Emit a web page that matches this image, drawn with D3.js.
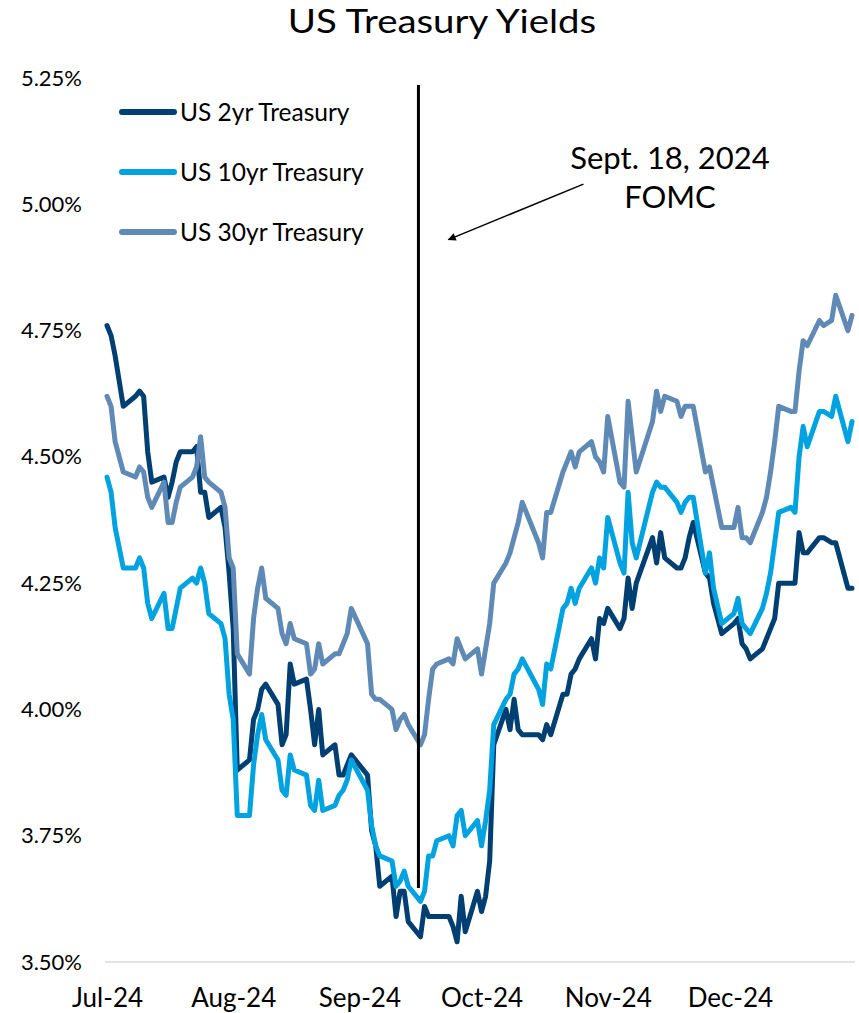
<!DOCTYPE html>
<html>
<head>
<meta charset="utf-8">
<script src="https://cdn.jsdelivr.net/npm/d3@7"></script>
<style>
  body { margin: 0; background: #fff; }
  svg { display: block; font-family: Lato, "Open Sans", sans-serif; }
</style>
</head>
<body>
<div id="chart"></div>
<script>
'use strict';

// trading days, Jul - Dec 2024
const dates = [
  '2024-07-01','2024-07-02','2024-07-03','2024-07-05','2024-07-08','2024-07-09','2024-07-10','2024-07-11','2024-07-12','2024-07-15','2024-07-16',
  '2024-07-17','2024-07-18','2024-07-19','2024-07-22','2024-07-23','2024-07-24','2024-07-25','2024-07-26','2024-07-29','2024-07-30','2024-07-31',
  '2024-08-01','2024-08-02','2024-08-05','2024-08-06','2024-08-07','2024-08-08','2024-08-09','2024-08-12','2024-08-13','2024-08-14','2024-08-15',
  '2024-08-16','2024-08-19','2024-08-20','2024-08-21','2024-08-22','2024-08-23','2024-08-26','2024-08-27','2024-08-28','2024-08-29','2024-08-30',
  '2024-09-03','2024-09-04','2024-09-05','2024-09-06','2024-09-09','2024-09-10','2024-09-11','2024-09-12','2024-09-13','2024-09-16',
  '2024-09-17','2024-09-18','2024-09-19','2024-09-20','2024-09-23','2024-09-24','2024-09-25','2024-09-26','2024-09-27','2024-09-30',
  '2024-10-01','2024-10-02','2024-10-03','2024-10-04','2024-10-07','2024-10-08','2024-10-09','2024-10-10','2024-10-11','2024-10-15','2024-10-16',
  '2024-10-17','2024-10-18','2024-10-21','2024-10-22','2024-10-23','2024-10-24','2024-10-25','2024-10-28','2024-10-29','2024-10-30','2024-10-31',
  '2024-11-01','2024-11-04','2024-11-05','2024-11-06','2024-11-07','2024-11-08','2024-11-12','2024-11-13','2024-11-14','2024-11-15',
  '2024-11-18','2024-11-19','2024-11-20','2024-11-21','2024-11-22','2024-11-25','2024-11-26','2024-11-27','2024-11-29',
  '2024-12-02','2024-12-03','2024-12-04','2024-12-05','2024-12-06','2024-12-09','2024-12-10','2024-12-11','2024-12-12','2024-12-13','2024-12-16',
  '2024-12-17','2024-12-18','2024-12-19','2024-12-20','2024-12-23','2024-12-24','2024-12-26','2024-12-27','2024-12-30','2024-12-31'
];

const yield2yr = [
  4.76, 4.74, 4.70, 4.60, 4.62, 4.63, 4.62, 4.51, 4.45, 4.46, 4.42, 4.45, 4.49, 4.51, 4.51, 4.52, 4.43, 4.43, 4.38, 4.40, 4.36, 4.27,
  4.16, 3.88, 3.90, 3.98, 4.00, 4.04, 4.05, 4.01, 3.93, 3.95, 4.09, 4.05, 4.06, 4.00, 3.93, 4.00, 3.91, 3.93, 3.87, 3.87, 3.89, 3.91,
  3.87, 3.76, 3.73, 3.65, 3.67, 3.59, 3.64, 3.64, 3.58, 3.55, 3.61, 3.59, 3.59, 3.59, 3.59, 3.57, 3.54, 3.63, 3.56, 3.64,
  3.60, 3.63, 3.70, 3.93, 4.00, 3.96, 4.02, 3.96, 3.95, 3.95, 3.94, 3.97, 3.95, 4.03, 4.03, 4.07, 4.08, 4.10, 4.14, 4.10, 4.18, 4.17,
  4.20, 4.16, 4.18, 4.26, 4.20, 4.25, 4.34, 4.29, 4.35, 4.30, 4.28, 4.28, 4.30, 4.34, 4.37, 4.27, 4.26, 4.21, 4.15,
  4.17, 4.18, 4.13, 4.12, 4.10, 4.12, 4.14, 4.16, 4.18, 4.25, 4.25, 4.25, 4.35, 4.31, 4.31, 4.34, 4.34, 4.33, 4.33, 4.24, 4.24
];

const yield10yr = [
  4.46, 4.43, 4.36, 4.28, 4.28, 4.30, 4.28, 4.21, 4.18, 4.23, 4.16, 4.16, 4.20, 4.24, 4.26, 4.25, 4.28, 4.25, 4.19, 4.17, 4.14, 4.03,
  3.98, 3.79, 3.79, 3.89, 3.95, 3.99, 3.94, 3.90, 3.84, 3.83, 3.91, 3.88, 3.87, 3.81, 3.80, 3.86, 3.80, 3.81, 3.83, 3.84, 3.86, 3.90,
  3.84, 3.77, 3.73, 3.71, 3.70, 3.65, 3.66, 3.68, 3.65, 3.62, 3.64, 3.71, 3.71, 3.74, 3.75, 3.73, 3.79, 3.80, 3.75, 3.78,
  3.73, 3.78, 3.84, 3.97, 4.02, 4.03, 4.07, 4.08, 4.10, 4.04, 4.01, 4.09, 4.08, 4.20, 4.21, 4.24, 4.21, 4.24, 4.28, 4.25, 4.30, 4.28,
  4.38, 4.29, 4.27, 4.43, 4.33, 4.30, 4.43, 4.45, 4.44, 4.44, 4.41, 4.39, 4.41, 4.42, 4.42, 4.27, 4.31, 4.24, 4.17,
  4.19, 4.22, 4.17, 4.16, 4.15, 4.20, 4.23, 4.27, 4.33, 4.39, 4.40, 4.39, 4.50, 4.56, 4.52, 4.59, 4.59, 4.58, 4.62, 4.53, 4.57
];

const yield30yr = [
  4.62, 4.60, 4.53, 4.47, 4.46, 4.48, 4.47, 4.42, 4.40, 4.45, 4.37, 4.37, 4.41, 4.44, 4.46, 4.48, 4.54, 4.46, 4.45, 4.43, 4.40, 4.30,
  4.28, 4.11, 4.07, 4.18, 4.24, 4.28, 4.22, 4.20, 4.15, 4.13, 4.17, 4.14, 4.13, 4.07, 4.08, 4.13, 4.09, 4.11, 4.11, 4.13, 4.15, 4.20,
  4.13, 4.03, 4.02, 4.02, 4.00, 3.96, 3.98, 3.99, 3.97, 3.93, 3.95, 4.02, 4.08, 4.09, 4.10, 4.09, 4.14, 4.12, 4.10, 4.12,
  4.07, 4.12, 4.17, 4.25, 4.29, 4.31, 4.34, 4.37, 4.41, 4.33, 4.30, 4.39, 4.39, 4.47, 4.49, 4.51, 4.48, 4.51, 4.53, 4.50, 4.49, 4.47,
  4.58, 4.45, 4.44, 4.61, 4.54, 4.47, 4.57, 4.63, 4.59, 4.62, 4.61, 4.58, 4.60, 4.60, 4.60, 4.47, 4.48, 4.44, 4.36,
  4.36, 4.40, 4.34, 4.34, 4.33, 4.39, 4.42, 4.47, 4.53, 4.60, 4.59, 4.59, 4.67, 4.73, 4.72, 4.77, 4.76, 4.77, 4.82, 4.75, 4.78
];

const seriesNames = ['US 2yr Treasury', 'US 10yr Treasury', 'US 30yr Treasury'];
const seriesColors = ['#003f72', '#00a3e0', '#5f8ab6'];
const yTicks = [3.5, 3.75, 4.0, 4.25, 4.5, 4.75, 5.0, 5.25];
const xTickFormat = '%b-%y';
const annotationLines = ['Sept. 18, 2024', 'FOMC'];

const width = 859, height = 1013;
const parse = d3.timeParse('%Y-%m-%d');
const days = dates.map(parse);
const series = [yield2yr, yield10yr, yield30yr].map((vals, i) => ({
  name: seriesNames[i],
  color: seriesColors[i],
  points: vals.map((v, j) => ({date: days[j], value: v}))
}));

const svg = d3.select('#chart')
  .append('svg')
  .attr('width', width)
  .attr('height', height);

const x = d3.scaleTime()
  .domain([new Date(2024, 6, 1), new Date(2024, 11, 31)])
  .range([107, 852]);

const y = d3.scaleLinear()
  .domain([3.5, 5.25])
  .range([962, 78]);

// title (the source title is a little stretched sideways)
svg.append('text')
  .attr('transform', 'translate(442,22) scale(1.2,1)')
  .attr('dy', '0.35em')
  .attr('text-anchor', 'middle')
  .style('font-size', '32px')
  .text('US Treasury Yields');

// baseline
svg.append('line')
  .attr('x1', 105).attr('x2', 855)
  .attr('y1', y(3.5)).attr('y2', y(3.5))
  .style('stroke', '#d9d9d9')
  .style('stroke-width', 1.5);

// y axis labels
const yAxis = svg.append('g')
  .attr('transform', 'translate(82,0)')
  .call(d3.axisLeft(y).tickValues(yTicks).tickSize(0).tickPadding(0)
    .tickFormat(d => d.toFixed(2) + '%'));
yAxis.select('.domain').remove();
yAxis.selectAll('text').style('font-size', '22px').style('font-family', 'Lato').attr('fill', '#000');

// x axis labels
const xAxis = svg.append('g')
  .attr('transform', 'translate(0,998)')
  .call(d3.axisBottom(x).tickValues(d3.timeMonth.range(new Date(2024, 6, 1), new Date(2024, 11, 31)))
    .tickSize(0).tickPadding(0).tickFormat(d3.timeFormat(xTickFormat)));
xAxis.select('.domain').remove();
xAxis.selectAll('text')
  .attr('y', 0).attr('dy', '0.35em')
  .style('font-size', '26px').style('font-family', 'Lato').attr('fill', '#000');

// lines
const line = d3.line()
  .x(d => x(d.date))
  .y(d => y(d.value));

svg.selectAll('path.series')
  .data(series)
  .enter()
  .append('path')
  .attr('class', 'series')
  .attr('d', d => line(d.points))
  .style('fill', 'none')
  .style('stroke', d => d.color)
  .style('stroke-width', 5)
  .style('stroke-linejoin', 'round')
  .style('stroke-linecap', 'round');

// FOMC marker line (placed where the source drew it)
const fomcLineDate = new Date(2024, 8, 15, 12);
svg.append('line')
  .attr('x1', x(fomcLineDate)).attr('x2', x(fomcLineDate))
  .attr('y1', 85).attr('y2', 888)
  .style('stroke', '#000')
  .style('stroke-width', 3);

// legend
const legend = svg.selectAll('g.legend')
  .data(series)
  .enter()
  .append('g')
  .attr('class', 'legend')
  .attr('transform', (d, i) => `translate(120,${112 + i * 60})`);
legend.append('line')
  .attr('x1', 2).attr('x2', 54)
  .style('stroke', d => d.color)
  .style('stroke-width', 6)
  .style('stroke-linecap', 'round');
legend.append('text')
  .attr('x', 60)
  .attr('dy', '0.35em')
  .style('font-size', '24.5px')
  .text(d => d.name);

// annotation
svg.append('defs').append('marker')
  .attr('id', 'arrow')
  .attr('viewBox', '0 0 10 10')
  .attr('refX', 9).attr('refY', 5)
  .attr('markerWidth', 10).attr('markerHeight', 8)
  .attr('markerUnits', 'userSpaceOnUse')
  .attr('orient', 'auto')
  .append('path')
  .attr('d', 'M0,0 L10,5 L0,10 z')
  .style('fill', '#000');

const fomcX = x(fomcLineDate);
svg.append('line')
  .attr('x1', fomcX + 165).attr('y1', y(5.04))
  .attr('x2', fomcX + 30).attr('y2', y(4.93))
  .style('stroke', '#000')
  .style('stroke-width', 1.5)
  .attr('marker-end', 'url(#arrow)');

svg.append('text')
  .attr('text-anchor', 'middle')
  .style('font-size', '31px')
  .selectAll('tspan')
  .data(annotationLines)
  .enter()
  .append('tspan')
  .attr('x', 670)
  .attr('y', (d, i) => 158 + i * 39)
  .attr('dy', '0.35em')
  .text(d => d);
</script>
</body>
</html>
